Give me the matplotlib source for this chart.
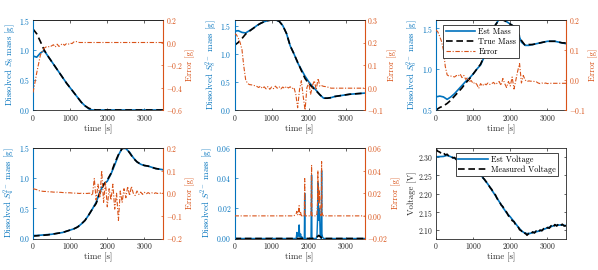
import numpy as np
import matplotlib
matplotlib.use('Agg')
import matplotlib.pyplot as plt

plt.rcParams['font.family'] = 'cmr10'
plt.rcParams['mathtext.fontset'] = 'cm'
plt.rcParams['axes.formatter.use_mathtext'] = True

BLUE = '#0072BD'
ORANGE = '#D95319'
DARK = '#262626'

# time grids [s]
t_c = np.arange(0, 3501, 100)   # coarse grid for the smooth mass curves
t_f = np.arange(0, 3501, 50)    # finer grid for the error curves

# ---- panel 1 : S8
true1 = [1.35, 1.27, 1.14, 1.0, 0.9, 0.81, 0.72, 0.63, 0.54, 0.45, 0.37, 0.29, 0.21, 0.13, 0.07, 0.03, 0.01, 0.0,
         0, 0, 0, 0, 0, 0, 0, 0, 0, 0, 0, 0, 0, 0, 0, 0, 0, 0]
est1 = [0.9, 0.88, 0.95, 0.99, 0.9, 0.81, 0.72, 0.63, 0.54, 0.45, 0.37, 0.29, 0.21, 0.13, 0.07, 0.02, 0.0, 0.0,
        0, 0, 0, 0, 0, 0, 0, 0, 0, 0, 0, 0, 0, 0, 0, 0, 0, 0]
err1 = [-0.445, -0.36, -0.27, -0.19, -0.11, -0.08, -0.05, -0.04, -0.035, -0.04, -0.03, -0.02, -0.04,
        -0.015, -0.035, -0.02, -0.01, -0.025, -0.01, -0.015, -0.005, -0.01, 0.005, 0.01, 0.005, 0.0] + [0.0] * 45

# ---- panel 2 : S8 2-
true2 = [1.15, 1.2, 1.27, 1.35, 1.4, 1.45, 1.5, 1.54, 1.57, 1.59, 1.6, 1.6, 1.58, 1.5, 1.36, 1.14, 1.0, 0.85,
         0.7, 0.56, 0.47, 0.4, 0.34, 0.27, 0.21, 0.21, 0.22, 0.24, 0.25, 0.26, 0.27, 0.28, 0.285, 0.29, 0.295, 0.3]
est2 = [1.4, 1.41, 1.38, 1.37, 1.41, 1.45, 1.5, 1.54, 1.57, 1.59, 1.6, 1.6, 1.58, 1.5, 1.36, 1.14, 1.0, 0.84,
        0.72, 0.6, 0.5, 0.42, 0.35, 0.27, 0.21, 0.21, 0.22, 0.24, 0.25, 0.26, 0.27, 0.28, 0.285, 0.29, 0.295, 0.3]
err2 = [0.24, 0.235, 0.22, 0.2, 0.17, 0.095, 0.035, 0.018, 0.013, 0.012, 0.01, 0.008, 0.005, 0.0, 0.006,
        -0.004, 0.003, -0.006, 0.004, -0.008, 0.002, -0.005, 0.006, -0.003, 0.004, -0.006, 0.002, -0.004,
        0.005, -0.002, 0.003, -0.005, 0.0, -0.03, -0.09, -0.01, 0.03, -0.04, -0.1, 0.0, 0.02, -0.03, 0.01,
        0.03, -0.01, 0.04, 0.005, 0.008, 0.005, 0.004, 0.002, 0.0] + [-0.003] * 19

# ---- panel 3 : S6 2-
true3 = [0.5, 0.53, 0.55, 0.58, 0.62, 0.67, 0.72, 0.77, 0.83, 0.88, 0.94, 1.0, 1.06, 1.16, 1.27, 1.4, 1.54, 1.6,
         1.6, 1.58, 1.55, 1.52, 1.45, 1.35, 1.29, 1.3, 1.3, 1.31, 1.32, 1.33, 1.34, 1.34, 1.34, 1.33, 1.32, 1.32]
est3 = [0.66, 0.67, 0.66, 0.63, 0.66, 0.7, 0.75, 0.8, 0.85, 0.89, 0.94, 1.0, 1.05, 1.15, 1.26, 1.39, 1.54, 1.61,
        1.61, 1.58, 1.55, 1.52, 1.45, 1.33, 1.29, 1.29, 1.3, 1.31, 1.32, 1.33, 1.34, 1.34, 1.34, 1.33, 1.32, 1.31]
err3 = [0.167, 0.16, 0.145, 0.128, 0.1, 0.045, 0.017, 0.013, 0.013, 0.012, 0.01, 0.015, 0.013, 0.02, 0.008,
        0.015, 0.002, 0.008, -0.005, -0.002, -0.012, -0.008, -0.015, -0.028, -0.012, -0.02, -0.012, -0.016,
        -0.01, -0.015, -0.012, -0.008, -0.015, -0.01, -0.005, -0.018, 0.005, -0.012, -0.025, -0.005, -0.02,
        0.01, -0.03, 0.0, 0.03, 0.055, -0.01, 0.015, 0.0, -0.005, -0.003, -0.004, -0.004, -0.005, -0.006,
        -0.01, -0.012, -0.01, -0.012, -0.01, -0.012] + [-0.011] * 10

# ---- panel 4 : S4 2-
true4 = [0.04, 0.045, 0.05, 0.055, 0.06, 0.07, 0.08, 0.09, 0.1, 0.12, 0.14, 0.16, 0.19, 0.24, 0.3, 0.39, 0.49,
         0.58, 0.75, 0.89, 0.97, 1.08, 1.25, 1.39, 1.49, 1.5, 1.42, 1.33, 1.27, 1.23, 1.21, 1.2, 1.18, 1.16, 1.15, 1.14]
est4 = [0.05, 0.05, 0.055, 0.06, 0.065, 0.07, 0.08, 0.09, 0.1, 0.12, 0.14, 0.16, 0.19, 0.24, 0.3, 0.39, 0.49,
        0.6, 0.77, 0.9, 0.95, 1.07, 1.22, 1.38, 1.5, 1.49, 1.43, 1.34, 1.27, 1.23, 1.21, 1.2, 1.18, 1.16, 1.15, 1.14]
err4 = [0.02, 0.018, 0.016, 0.012, 0.01, 0.009, 0.008, 0.008, 0.007, 0.006, 0.006, 0.005, 0.005, 0.005,
        0.004, 0.004, 0.003, 0.003, 0.002, 0.002, 0.002, 0.001, 0.001, 0.0, 0.0, -0.001, 0.0, -0.001, 0.0,
        -0.001, 0.0, 0.0, -0.01, 0.065, -0.03, 0.04, -0.02, 0.1, -0.04, 0.05, -0.06, 0.02, -0.03, 0.04,
        -0.07, 0.0, -0.12, 0.01, -0.04, 0.02, -0.02, 0.03, -0.01, 0.03, 0.0, -0.01, 0.01, -0.005, 0.005,
        -0.005, 0.004, -0.003, 0.003, -0.002, 0.002, -0.002, 0.002, -0.001, 0.001, 0.0, 0.0]

# ---- panel 5 : S 2-
t5 = [0, 1600, 1660, 1680, 1700, 1720, 1740, 1750, 1760, 1780, 1800, 1820, 1840, 1880, 1890, 1900, 1940,
      2060, 2075, 2085, 2100, 2200, 2220, 2235, 2245, 2255, 2265, 2275, 2285, 2295, 2305, 2320, 2335, 2345,
      2355, 2370, 2400, 2500, 2600, 3500]
est5 = [0, 0, 0, 0.004, 0.001, 0.002, 0.009, 0.004, 0.001, 0.003, 0.0, 0.001, 0.0, 0.0, 0.03, 0.0, 0.0,
        0.0, 0.042, 0.0, 0.0, 0.0, 0.002, 0.012, 0.037, 0.015, 0.02, 0.012, 0.02, 0.014, 0.003, 0.001, 0.0,
        0.045, 0.003, 0.001, 0.0, 0.0, 0.0, 0.0]
true5 = [0, 0, 0, 0, 0, 0, 0, 0, 0, 0, 0, 0, 0, 0, 0, 0, 0,
         0, 0, 0, 0, 0.0008, 0.001, 0.0012, 0.0015, 0.0018, 0.002, 0.002, 0.0018, 0.0015, 0.0012, 0.001, 0.0008,
         0.0006, 0.0004, 0.0002, 0.0, 0.0, 0.0, 0.0]
err5 = [0, 0, 0.002, 0.004, 0.001, 0.003, 0.009, 0.004, 0.001, 0.003, 0.0, 0.001, 0.0, 0.0, 0.033, 0.0, 0.0,
        0.0, 0.045, 0.0, 0.0, 0.0, 0.002, 0.012, 0.04, 0.015, 0.025, 0.012, 0.022, 0.014, 0.003, 0.001, 0.0,
        0.048, 0.003, 0.001, 0.0, 0.0, 0.0, 0.0]

# ---- panel 6 : voltage
v_meas = [2.322, 2.316, 2.314, 2.309, 2.312, 2.306, 2.308, 2.302, 2.303, 2.298, 2.299, 2.293, 2.294, 2.288,
          2.290, 2.284, 2.283, 2.279, 2.277, 2.271, 2.270, 2.262, 2.263, 2.254, 2.253, 2.245, 2.240, 2.233,
          2.227, 2.218, 2.212, 2.202, 2.197, 2.186, 2.181, 2.170, 2.165, 2.155, 2.150, 2.140, 2.136, 2.127,
          2.124, 2.114, 2.112, 2.102, 2.099, 2.090, 2.093, 2.087, 2.092, 2.089, 2.096, 2.093, 2.099, 2.095,
          2.101, 2.099, 2.105, 2.102, 2.108, 2.106, 2.113, 2.108, 2.116, 2.112, 2.118, 2.113, 2.117, 2.112, 2.113]
tv_est = [0, 1, 200, 300, 500, 800, 1000, 1200, 1400, 1600, 1800, 1900, 2000, 2100, 2200, 2300, 2400, 2500,
          2600, 2800, 3000, 3200, 3400, 3500]
v_est = [2.24, 2.301, 2.302, 2.305, 2.297, 2.281, 2.268, 2.252, 2.226, 2.195, 2.163, 2.148, 2.137, 2.124,
         2.111, 2.099, 2.092, 2.091, 2.094, 2.099, 2.107, 2.114, 2.115, 2.113]

mass_panels = [
    (true1, est1, err1, r'Dissolved $S_8$ mass [g]', (0, 1.5), [0, 0.5, 1, 1.5], (-0.6, 0.2), [-0.6, -0.4, -0.2, 0, 0.2]),
    (true2, est2, err2, r'Dissolved $S_8^{2-}$ mass [g]', (0, 1.6), [0, 0.5, 1, 1.5], (-0.1, 0.3), [-0.1, 0, 0.1, 0.2, 0.3]),
    (true3, est3, err3, r'Dissolved $S_6^{2-}$ mass [g]', (0.5, 1.6), [0.5, 1, 1.5], (-0.1, 0.2), [-0.1, 0, 0.1, 0.2]),
    (true4, est4, err4, r'Dissolved $S_4^{2-}$ mass [g]', (0, 1.5), [0, 0.5, 1, 1.5], (-0.2, 0.2), [-0.2, -0.1, 0, 0.1, 0.2]),
]

W, H = 598, 270
fig = plt.figure(figsize=(W / 100, H / 100), dpi=100)
cols = [33, 234.5, 436]
rows = [(20, 110), (148, 238.5)]
AW = 130

def make_ax(c, r):
    top, bot = rows[r]
    return fig.add_axes([cols[c] / W, (H - bot) / H, AW / W, (bot - top) / H])

FS_T = 5.5
FS_L = 6.3
FS_LEG = 5.9
DASH = (0, (4, 2.2))
DASHDOT = (0, (4, 1.5, 1, 1.5))

def style_x(ax):
    ax.set_xlim(0, 3500)
    ax.set_xticks([0, 1000, 2000, 3000])
    ax.tick_params(axis='x', direction='in', length=1.8, width=0.5, top=True, labelsize=FS_T,
                   colors=DARK, pad=2)
    ax.set_xlabel('time [s]', fontsize=FS_L, color=DARK, labelpad=1)
    for s in ['top', 'bottom']:
        ax.spines[s].set_color(DARK)
        ax.spines[s].set_linewidth(0.6)

def twin_axes(ax, ylab, ylim, yt, y2lim, y2t):
    style_x(ax)
    ax.set_ylim(*ylim)
    ax.set_yticks(yt)
    ax.tick_params(axis='y', direction='in', length=1.8, width=0.5, labelsize=FS_T, colors=BLUE, pad=2)
    ax.set_ylabel(ylab, fontsize=FS_L, color=BLUE, labelpad=1)
    ax.spines['left'].set_color(BLUE)
    ax.spines['left'].set_linewidth(0.8)
    ax.spines['right'].set_visible(False)
    ax2 = ax.twinx()
    ax2.set_ylim(*y2lim)
    ax2.set_yticks(y2t)
    ax2.tick_params(axis='y', direction='in', length=1.8, width=0.5, labelsize=FS_T, colors=ORANGE, pad=2)
    ax2.set_ylabel('Error [g]', fontsize=FS_L, color=ORANGE, labelpad=2)
    ax2.spines['right'].set_color(ORANGE)
    ax2.spines['right'].set_linewidth(0.8)
    ax2.spines['left'].set_visible(False)
    ax2.spines['top'].set_color(DARK)
    ax2.spines['top'].set_linewidth(0.6)
    ax2.spines['bottom'].set_visible(False)
    return ax2

def boxed_legend(ax, handles, loc, anchor):
    leg = ax.legend(handles=handles, loc=loc, bbox_to_anchor=anchor, fontsize=FS_LEG, frameon=True,
                    fancybox=False, framealpha=1, edgecolor=DARK, handlelength=3.6, borderpad=0.3,
                    labelspacing=0.18, handletextpad=0.4, borderaxespad=0)
    leg.get_frame().set_linewidth(0.6)
    return leg

slots = [(0, 0), (1, 0), (2, 0), (0, 1)]
for (true, est, err, ylab, ylim, yt, y2lim, y2t), (c, r) in zip(mass_panels, slots):
    ax = make_ax(c, r)
    l1, = ax.plot(t_c, est, color=BLUE, lw=1.2, label='Est Mass')
    l2, = ax.plot(t_c, true, color='black', lw=1.2, ls=DASH, label='True Mass')
    ax2 = twin_axes(ax, ylab, ylim, yt, y2lim, y2t)
    l3, = ax2.plot(t_f, err, color=ORANGE, lw=0.8, ls=DASHDOT, label='Error')
    if c == 2 and r == 0:
        boxed_legend(ax2, [l1, l2, l3], 'upper left', (0.055, 0.945))

# panel 5
ax = make_ax(1, 1)
ax.plot(t5, est5, color=BLUE, lw=1.0)
ax.plot(t5, true5, color='black', lw=1.2, ls=DASH)
ax2 = twin_axes(ax, r'Dissolved $S^{2-}$ mass [g]', (0, 0.06), [0, 0.02, 0.04, 0.06],
                (-0.02, 0.06), [-0.02, 0, 0.02, 0.04, 0.06])
ax2.plot(t5, err5, color=ORANGE, lw=0.8, ls=DASHDOT)

# panel 6
ax = make_ax(2, 1)
h1, = ax.plot(tv_est, v_est, color=BLUE, lw=1.2, label='Est Voltage')
h2, = ax.plot(t_f, v_meas, color='black', lw=1.2, ls=DASH, label='Measured Voltage')
style_x(ax)
ax.set_ylim(2.078, 2.325)
ax.set_yticks([2.1, 2.15, 2.2, 2.25, 2.3])
ax.tick_params(axis='y', direction='in', length=1.8, width=0.5, right=True, labelsize=FS_T, colors=DARK, pad=2)
ax.set_ylabel('Voltage [V]', fontsize=FS_L, color=DARK, labelpad=1)
for s in ['left', 'right']:
    ax.spines[s].set_color(DARK)
    ax.spines[s].set_linewidth(0.6)
boxed_legend(ax, [h1, h2], 'upper right', (0.94, 0.945))

fig.savefig('out.png', dpi=100)
